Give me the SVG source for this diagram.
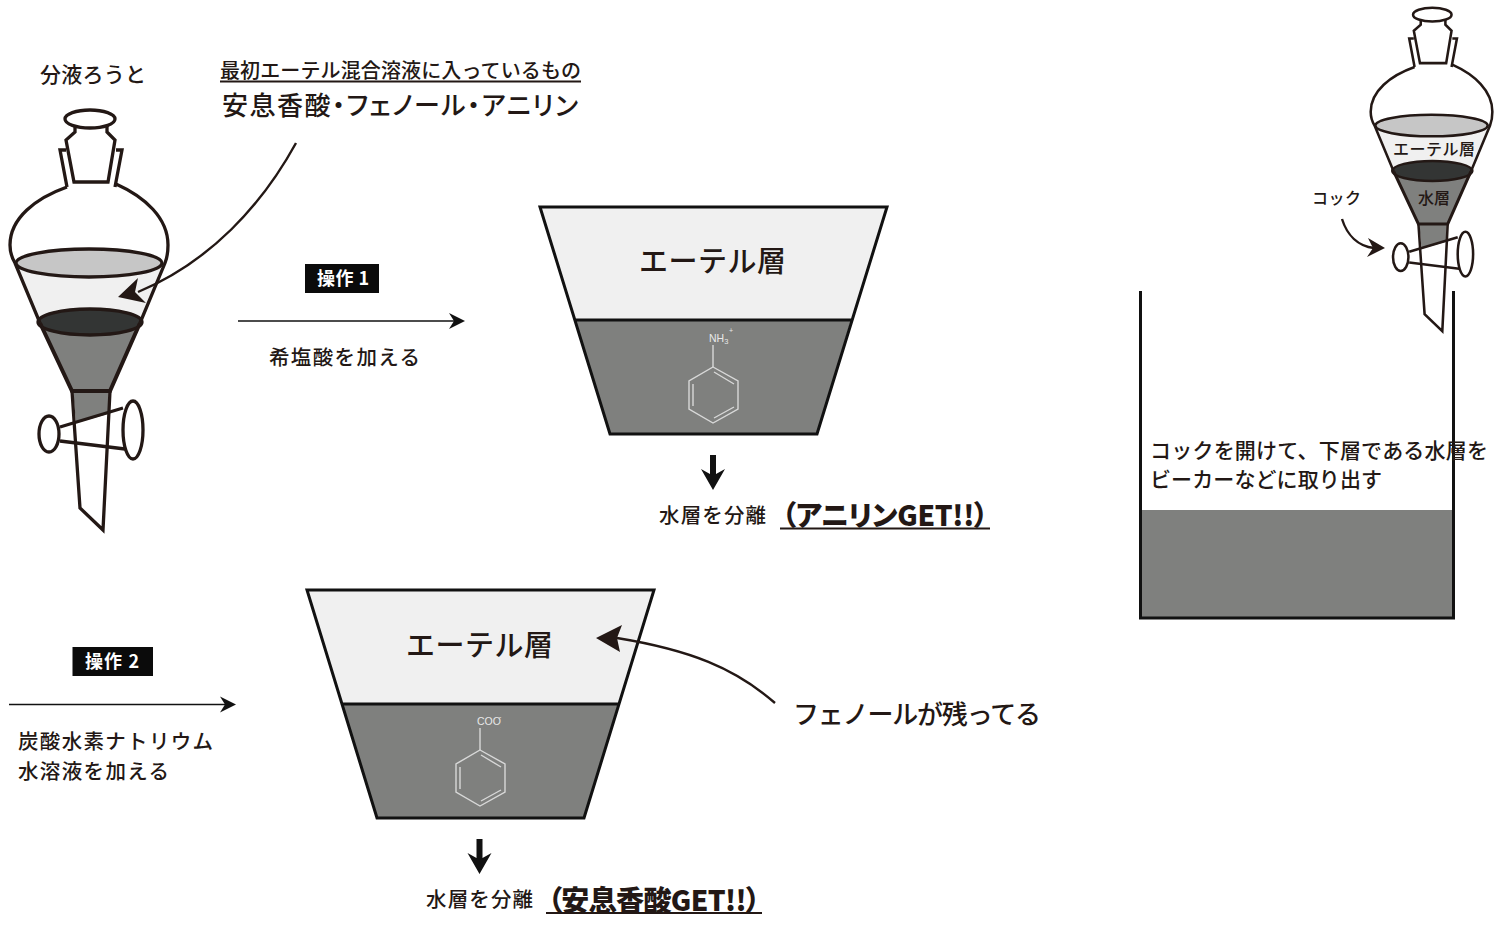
<svg xmlns="http://www.w3.org/2000/svg" xmlns:xlink="http://www.w3.org/1999/xlink" width="1500" height="926" viewBox="0 0 1500 926">
<style>
text{font-family:"Noto Sans CJK JP","Noto Sans",sans-serif;font-weight:500;fill:#231815}
.p{font-feature-settings:"palt"}
.g{stroke:#231815;stroke-width:3.3;stroke-linejoin:miter}
.n{fill:none}
.k{stroke:#111;stroke-width:3;fill:none}
.th{stroke:#111;stroke-width:1.7;fill:none}
.u{stroke:#231815;stroke-width:1.8;fill:none}
.mol{stroke:#d8d8d8;stroke-width:1.4;fill:none}
.mt{font-family:"Liberation Sans",Arial,sans-serif;font-weight:400;fill:#e8e8e8}
.cur{stroke:#231815;stroke-width:2.4;fill:none}
.lab{font-weight:700;fill:#fff}
.bold{font-weight:900;fill:#231815;font-feature-settings:"palt"}
</style>
<defs>
<g id="funnel">
<path d="M40 323L72 391H110L140 323Z" fill="#7f807e"/>
<path d="M15 263H163L140 323H40Z" fill="#f0f0f0"/>
<path d="M73 391H109L108 414L76 423Z" fill="#7f807e"/>
<ellipse cx="89" cy="263" rx="73" ry="14" fill="#c6c6c6" class="g"/>
<ellipse cx="90" cy="322" rx="52" ry="13" fill="#333534" class="g"/>
<path class="g n" d="M67 187C36 198 10 218 10 245C10 252 12 258 15 263L40 323"/>
<path class="g n" d="M116 184C145 197 168 218 168 245C168 252 167 258 165 263L140 323"/>
<path class="g n" style="stroke-width:4" d="M40 323L72 391H110L140 323"/>
<path class="g n" d="M67 187L60 150H66M115 187L122 150H116"/>
<path class="g n" d="M75 126V132L66 140L74 182H108L115 140L107 132V126"/>
<ellipse cx="90" cy="119" rx="25" ry="9" fill="#fff" class="g"/>
<path class="g n" d="M72 391L80 508L103 530L110 391"/>
<path class="g n" d="M60 427L123 408M60 441L125 449"/>
<ellipse cx="49" cy="434" rx="10" ry="18" class="g" fill="#fff"/>
<ellipse cx="133" cy="430" rx="10" ry="29" class="g" fill="#fff"/>
</g>
<g id="benzene" class="mol">
<path d="M0 0L25 14V42L0 56L-24 42V14Z"/>
<path d="M1 5L21 17M21 40L1 51M-20 17V39"/>
</g>
<polygon id="down" points="-3,-17 3,-17 3,2 12,-3 0,18 -12,-3 -3,2" fill="#111"/>
</defs>

<g id="connectors">
<path class="th" d="M238 321H455"/><polygon points="465,321 449,313 454,321 449,329" fill="#111"/>
<path class="th" d="M9 704.500H226"/><polygon points="236,704.500 220,696.500 225,704.500 220,712.500" fill="#111"/>
<use xlink:href="#down" href="#down" x="713" y="472"/>
<use xlink:href="#down" href="#down" x="479.500" y="856"/>
</g>

<g id="funnel-left"><use xlink:href="#funnel" href="#funnel"/></g>

<g id="label-funnel"><text x="40" y="82" font-size="21" textLength="106">分液ろうと</text></g>
<g id="header">
<text x="220" y="78" font-size="20" textLength="361">最初エーテル混合溶液に入っているもの</text>
<path class="u" d="M220 81.500H581"/>
<text class="p" x="222" y="115" font-size="26" textLength="356">安息香酸・フェノール・アニリン</text>
</g>
<g id="callout-ether">
<path class="cur" d="M296 143C262 205 210 262 138 292"/>
<polygon points="118,297 138,278 135,292 146,303" fill="#231815"/>
</g>

<g id="op1">
<rect x="305" y="264" width="74" height="29" fill="#0b0b0b"/>
<text class="lab" x="317" y="285" font-size="18" textLength="52">操作 1</text>
<text x="269" y="365" font-size="20.5" textLength="151">希塩酸を加える</text>
</g>
<g id="op2">
<rect x="72.500" y="647" width="80.500" height="29" fill="#0b0b0b"/>
<text class="lab" x="85" y="668" font-size="18" textLength="54">操作 2</text>
<text x="18" y="749" font-size="20.5" textLength="195">炭酸水素ナトリウム</text>
<text x="18" y="779" font-size="20.5" textLength="151">水溶液を加える</text>
</g>

<g id="separator-1">
<path d="M540 207H887L851 320H575Z" fill="#f0f0f0"/>
<path d="M575 320H851L817 434H610Z" fill="#7f807e"/>
<path class="k" d="M540 207H887L817 434H610ZM575 320H851"/>
<text x="639" y="272" font-size="29" textLength="147">エーテル層</text>
<use xlink:href="#benzene" href="#benzene" x="713" y="367"/>
<path class="mol" d="M713 367V345"/>
<text class="mt" x="709" y="342" font-size="10.500">NH<tspan font-size="7.500" dy="2">3</tspan></text>
<text class="mt" x="729" y="333" font-size="7">+</text>
</g>
<g id="result-1">
<text x="659" y="523" font-size="20.5" textLength="107">水層を分離</text>
<text class="bold" x="782" y="526" font-size="28" textLength="206">（アニリンGET!!）</text>
<path class="u" style="stroke-width:2" d="M780 528.500H990"/>
</g>

<g id="separator-2">
<path d="M307 590H654L618 704H342Z" fill="#f0f0f0"/>
<path d="M342 704H618L584 818H377Z" fill="#7f807e"/>
<path class="k" d="M307 590H654L584 818H377ZM342 704H618"/>
<text x="406" y="656" font-size="29" textLength="147">エーテル層</text>
<use xlink:href="#benzene" href="#benzene" x="480" y="750"/>
<path class="mol" d="M480 750V728"/>
<text class="mt" x="477" y="725" font-size="10.500">COO</text>
<text class="mt" x="499" y="719" font-size="7">-</text>
</g>
<g id="result-2">
<text x="426" y="907" font-size="20.5" textLength="107">水層を分離</text>
<text class="bold" x="548" y="911" font-size="28" textLength="212">（安息香酸GET!!）</text>
<path class="u" style="stroke-width:2" d="M546 913H762"/>
</g>
<g id="callout-phenol">
<path class="cur" d="M775 703C735 668 690 650 617 638"/>
<polygon points="596,638 622,625 617,638 620,652" fill="#231815"/>
<text x="793" y="724" font-size="26" textLength="248">フェノールが残ってる</text>
</g>

<g id="beaker">
<rect x="1141" y="510" width="313" height="107" fill="#7f807e"/>
<path class="k" d="M1140.500 291V618H1453.500V291"/>
<text x="1150" y="458" font-size="21" textLength="338">コックを開けて、下層である水層を</text>
<text x="1150" y="487" font-size="21" textLength="232">ビーカーなどに取り出す</text>
</g>
<g id="funnel-right">
<use xlink:href="#funnel" href="#funnel" transform="translate(1363 -77) scale(.77)"/>
<text x="1393" y="155" font-size="16" textLength="82">エーテル層</text>
<text x="1418" y="204" font-size="16" textLength="32">水層</text>
</g>
<g id="cock-label">
<text x="1312" y="204" font-size="16" textLength="49">コック</text>
<path class="cur" d="M1342 219C1347 235 1358 246 1374 248"/>
<polygon points="1385,248 1368,238 1373,248 1367,257" fill="#231815"/>
</g>
</svg>
